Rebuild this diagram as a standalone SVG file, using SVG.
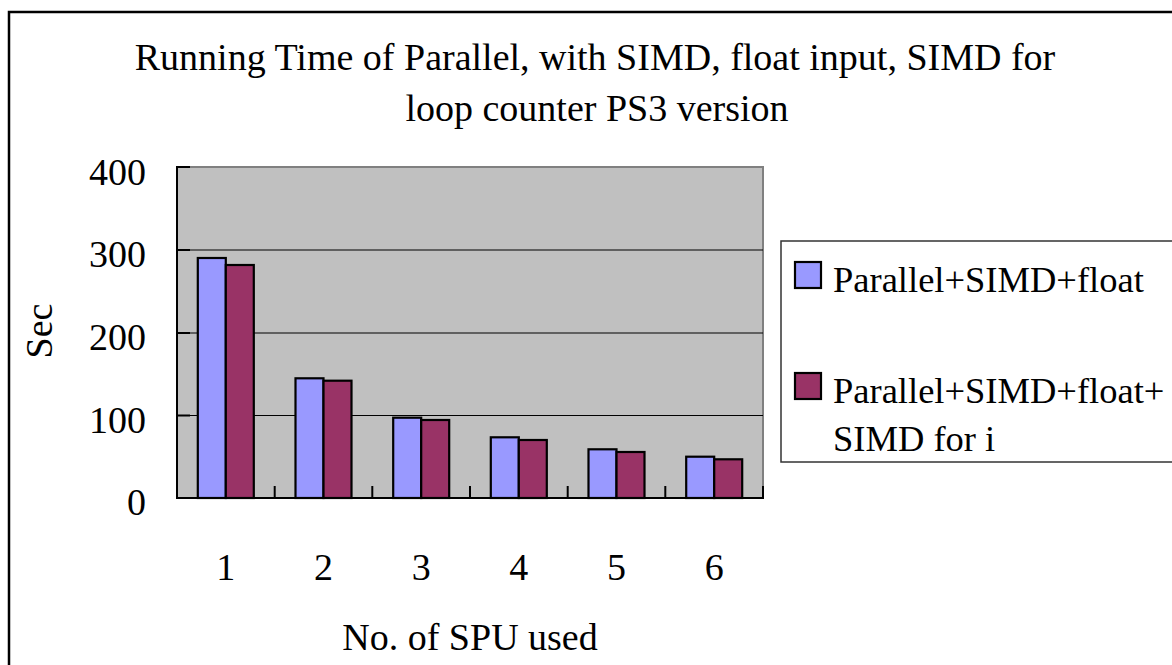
<svg xmlns="http://www.w3.org/2000/svg" width="1172" height="665" viewBox="0 0 1172 665">
  <style>
    text { font-family: "Liberation Serif", "Times New Roman", serif; fill: #000; }
    .title { font-size: 38px; text-anchor: middle; }
    .tick { font-size: 38px; }
    .ylab { text-anchor: end; }
    .xlab { text-anchor: middle; }
    .legend { font-size: 36.5px; }
    .grid { stroke: #000; stroke-width: 1.2; }
    .axis { stroke: #000; stroke-width: 2; }
    .s1 { fill: #9999FF; stroke: #000; stroke-width: 2.2; }
    .s2 { fill: #993366; stroke: #000; stroke-width: 2.2; }
  </style>

  <!-- page background and chart frame -->
  <rect x="0" y="0" width="1172" height="665" fill="#fff"/>
  <rect x="9" y="12" width="1200" height="700" fill="#fff" stroke="#000" stroke-width="2.5"/>

  <!-- chart title -->
  <g id="title">
    <text class="title" x="595" y="70">Running Time of Parallel, with SIMD, float input, SIMD for</text>
    <text class="title" x="597" y="121">loop counter PS3 version</text>
  </g>

  <!-- plot area -->
  <g id="plot-area">
    <rect x="177" y="167" width="586" height="331" fill="#C0C0C0" stroke="#808080" stroke-width="2"/>
    <line class="grid" x1="177" y1="250" x2="763" y2="250"/>
    <line class="grid" x1="177" y1="333" x2="763" y2="333"/>
    <line class="grid" x1="177" y1="415.5" x2="763" y2="415.5"/>
  </g>

  <!-- data series -->
  <g id="series-1">
    <rect class="s1" x="197.8" y="258" width="28" height="240"/>
    <rect class="s1" x="295.5" y="378.3" width="28" height="119.7"/>
    <rect class="s1" x="393.2" y="417.7" width="28" height="80.3"/>
    <rect class="s1" x="490.8" y="437.3" width="28" height="60.7"/>
    <rect class="s1" x="588.5" y="449.3" width="28" height="48.7"/>
    <rect class="s1" x="686.2" y="456.7" width="28" height="41.3"/>
  </g>
  <g id="series-2">
    <rect class="s2" x="225.8" y="265" width="28" height="233"/>
    <rect class="s2" x="323.5" y="380.7" width="28" height="117.3"/>
    <rect class="s2" x="421.2" y="420" width="28" height="78"/>
    <rect class="s2" x="518.8" y="440" width="28" height="58"/>
    <rect class="s2" x="616.5" y="452" width="28" height="46"/>
    <rect class="s2" x="714.2" y="459.3" width="28" height="38.7"/>
  </g>

  <!-- axes with inside tick marks -->
  <g id="axes">
    <line class="axis" x1="177" y1="166" x2="177" y2="499"/>
    <line class="axis" x1="176" y1="498" x2="764" y2="498"/>
    <line class="axis" x1="177" y1="167" x2="190" y2="167"/>
    <line class="axis" x1="177" y1="250" x2="190" y2="250"/>
    <line class="axis" x1="177" y1="333" x2="190" y2="333"/>
    <line class="axis" x1="177" y1="415.5" x2="190" y2="415.5"/>
    <line class="axis" x1="274.7" y1="486" x2="274.7" y2="498"/>
    <line class="axis" x1="372.3" y1="486" x2="372.3" y2="498"/>
    <line class="axis" x1="470" y1="486" x2="470" y2="498"/>
    <line class="axis" x1="567.7" y1="486" x2="567.7" y2="498"/>
    <line class="axis" x1="665.3" y1="486" x2="665.3" y2="498"/>
    <line class="axis" x1="763" y1="486" x2="763" y2="498"/>
  </g>

  <!-- value axis labels -->
  <g id="y-axis-labels" class="tick ylab">
    <text class="tick ylab" x="146" y="185">400</text>
    <text class="tick ylab" x="146" y="267">300</text>
    <text class="tick ylab" x="146" y="350">200</text>
    <text class="tick ylab" x="146" y="433">100</text>
    <text class="tick ylab" x="146" y="515">0</text>
  </g>
  <text id="y-axis-title" class="tick" text-anchor="middle" transform="translate(52,331) rotate(-90)">Sec</text>

  <!-- category axis labels -->
  <g id="x-axis-labels">
    <text class="tick xlab" x="225.8" y="580">1</text>
    <text class="tick xlab" x="323.5" y="580">2</text>
    <text class="tick xlab" x="421.2" y="580">3</text>
    <text class="tick xlab" x="518.8" y="580">4</text>
    <text class="tick xlab" x="616.5" y="580">5</text>
    <text class="tick xlab" x="714.2" y="580">6</text>
  </g>
  <text id="x-axis-title" class="tick xlab" x="470" y="650">No. of SPU used</text>

  <!-- legend -->
  <g id="legend">
    <rect x="781" y="241" width="420" height="221" fill="#fff" stroke="#333" stroke-width="1.5"/>
    <rect class="s1" x="795" y="262" width="26" height="26"/>
    <text class="legend" x="833" y="292">Parallel+SIMD+float</text>
    <rect class="s2" x="795" y="373" width="26" height="26"/>
    <text class="legend" x="833" y="403">Parallel+SIMD+float+</text>
    <text class="legend" x="833" y="451">SIMD for i</text>
  </g>
</svg>
